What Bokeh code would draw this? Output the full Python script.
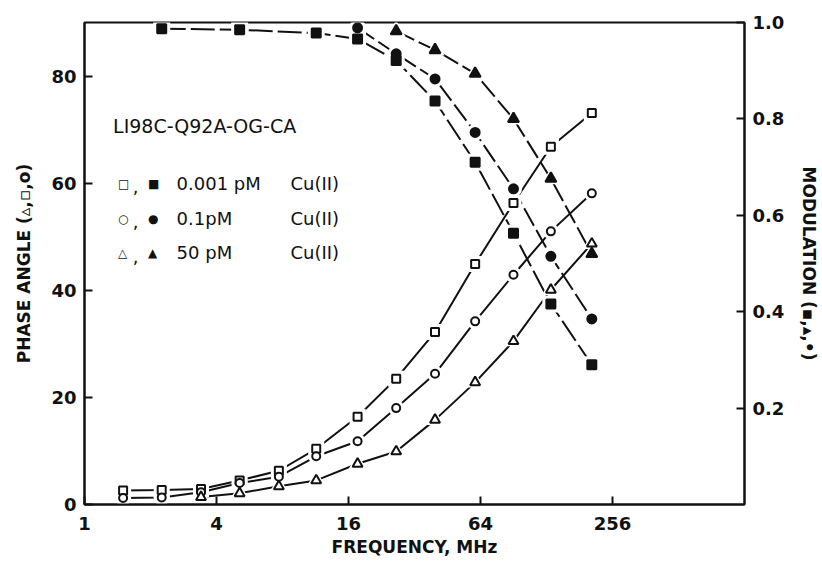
from bokeh.plotting import figure
from bokeh.models import (Range1d, LinearAxis, FixedTicker, PrintfTickFormatter,
                          Label)
from bokeh.embed import file_html
from bokeh.resources import INLINE

# modulation frequencies, MHz
freq = [1.5, 2.25, 3.4, 5.1, 7.7, 11.4, 17.6, 26.4, 39.7, 60.5, 90.5, 134, 206]

# phase angles (degrees), open symbols
phase_001 = [2.6, 2.7, 2.9, 4.5, 6.3, 10.4, 16.4, 23.5, 32.2, 44.9, 56.3, 66.8, 73.1]
phase_01 = [1.2, 1.3, 2.3, 4.0, 5.2, 9.0, 11.8, 18.0, 24.4, 34.2, 42.9, 51.0, 58.1]
phase_50_freq = [3.4, 5.1, 7.7, 11.4, 17.6, 26.4, 39.7, 60.5, 90.5, 134, 206]
phase_50 = [1.4, 2.1, 3.4, 4.5, 7.6, 9.9, 15.8, 22.8, 30.5, 40.1, 48.7]

# modulation ratios, filled symbols
mod_001_freq = [2.25, 5.1, 11.4, 17.6, 26.4, 39.7, 60.5, 90.5, 134, 206]
mod_001 = [0.987, 0.985, 0.978, 0.966, 0.921, 0.837, 0.710, 0.563, 0.416, 0.290]
mod_01_freq = [17.6, 26.4, 39.7, 60.5, 90.5, 134, 206]
mod_01 = [0.989, 0.935, 0.883, 0.772, 0.655, 0.515, 0.385]
mod_50_freq = [26.4, 39.7, 60.5, 90.5, 134, 206]
mod_50 = [0.982, 0.943, 0.894, 0.800, 0.676, 0.520]

x_ticks = [1, 4, 16, 64, 256]
phase_ticks = [0, 20, 40, 60, 80]
mod_ticks = [0.2, 0.4, 0.6, 0.8, 1.0]

FONT = "DejaVu Sans"
INK = "#111111"

p = figure(width=822, height=566, x_axis_type="log",
           x_range=Range1d(1, 1024), y_range=Range1d(0, 90),
           output_backend="svg", toolbar_location=None,
           min_border_left=84, min_border_right=71,
           min_border_top=22, min_border_bottom=62)
p.extra_y_ranges = {"mod": Range1d(0, 1.0)}
p.grid.visible = False
p.background_fill_color = "white"
p.border_fill_color = "white"
p.outline_line_color = INK
p.outline_line_width = 2


def style_axis(ax):
    ax.axis_line_width = 2
    ax.axis_line_color = INK
    ax.major_tick_in = 8
    ax.major_tick_out = 0
    ax.major_tick_line_width = 2
    ax.major_tick_line_color = INK
    ax.minor_tick_line_color = None
    ax.major_label_text_font = FONT
    ax.major_label_text_font_style = "bold"
    ax.major_label_text_font_size = "18px"
    ax.major_label_text_color = INK
    ax.axis_label_text_font = FONT
    ax.axis_label_text_font_style = "bold"
    ax.axis_label_text_font_size = "17px"
    ax.axis_label_text_color = INK


xa = p.xaxis[0]
style_axis(xa)
xa.ticker = FixedTicker(ticks=x_ticks)
xa.formatter = PrintfTickFormatter(format="%d")
xa.axis_label = "FREQUENCY, MHz"
xa.major_label_standoff = 12
xa.axis_label_standoff = 4

ya = p.yaxis[0]
style_axis(ya)
ya.ticker = FixedTicker(ticks=phase_ticks)
ya.axis_label = "PHASE ANGLE (\u25b5,\u25ab,o)"
ya.major_label_standoff = 8
ya.axis_label_standoff = 14

ra = LinearAxis(y_range_name="mod")
style_axis(ra)
ra.ticker = FixedTicker(ticks=mod_ticks)
ra.formatter = PrintfTickFormatter(format="%.1f")
ra.axis_label = "MODULATION (\u25aa,\u25b4,\u2022)"
ra.major_label_standoff = 8
ra.axis_label_standoff = 12
p.add_layout(ra, "right")

# connecting curves: solid for phase, long dashes for modulation
LW = 2
p.line(freq, phase_001, line_color=INK, line_width=LW)
p.line(freq, phase_01, line_color=INK, line_width=LW)
p.line(phase_50_freq, phase_50, line_color=INK, line_width=LW)
p.line(mod_001_freq, mod_001, y_range_name="mod", line_color=INK, line_width=LW,
       line_dash="24 5")
p.line(mod_01_freq, mod_01, y_range_name="mod", line_color=INK, line_width=LW,
       line_dash="20 5")
p.line(mod_50_freq, mod_50, y_range_name="mod", line_color=INK, line_width=LW,
       line_dash="20 5")

series = [
    (freq, phase_001, "square", 8, False, "default"),
    (freq, phase_01, "circle", 8, False, "default"),
    (phase_50_freq, phase_50, "triangle", 10, False, "default"),
    (mod_001_freq, mod_001, "square", 9, True, "mod"),
    (mod_01_freq, mod_01, "circle", 9, True, "mod"),
    (mod_50_freq, mod_50, "triangle", 11, True, "mod"),
]

# white halos open a small gap in the curves around each symbol
for xs, ys, mk, sz, filled, rng in series:
    p.scatter(xs, ys, marker=mk, size=sz + 8, fill_color="white",
              line_color=None, y_range_name=rng)

for xs, ys, mk, sz, filled, rng in series:
    p.scatter(xs, ys, marker=mk, size=sz, y_range_name=rng,
              fill_color=INK if filled else "white",
              line_color=INK, line_width=2)


# sample name and key
def add_text(x, y, txt, size="18px", style="normal"):
    p.add_layout(Label(x=x, y=y, text=txt, text_font=FONT,
                       text_font_size=size, text_font_style=style,
                       text_color=INK, text_baseline="middle",
                       text_align="left"))


add_text(1.35, 70.6, "LI98C-Q92A-OG-CA", size="19px")
rows = [("\u25a1", "\u25a0", "0.001 pM", 59.9),
        ("\u25cb", "\u25cf", "0.1pM", 53.4),
        ("\u25b3", "\u25b2", "50 pM", 47.0)]
for sym_open, sym_fill, conc, yv in rows:
    add_text(1.42, yv, sym_open, size="12px")
    add_text(1.66, yv - 0.6, ",", size="18px")
    add_text(1.95, yv, sym_fill, size="12px")
    add_text(2.63, yv, conc)
    add_text(8.7, yv, "Cu(II)")

open("out.html", "w").write(file_html(p, INLINE))
